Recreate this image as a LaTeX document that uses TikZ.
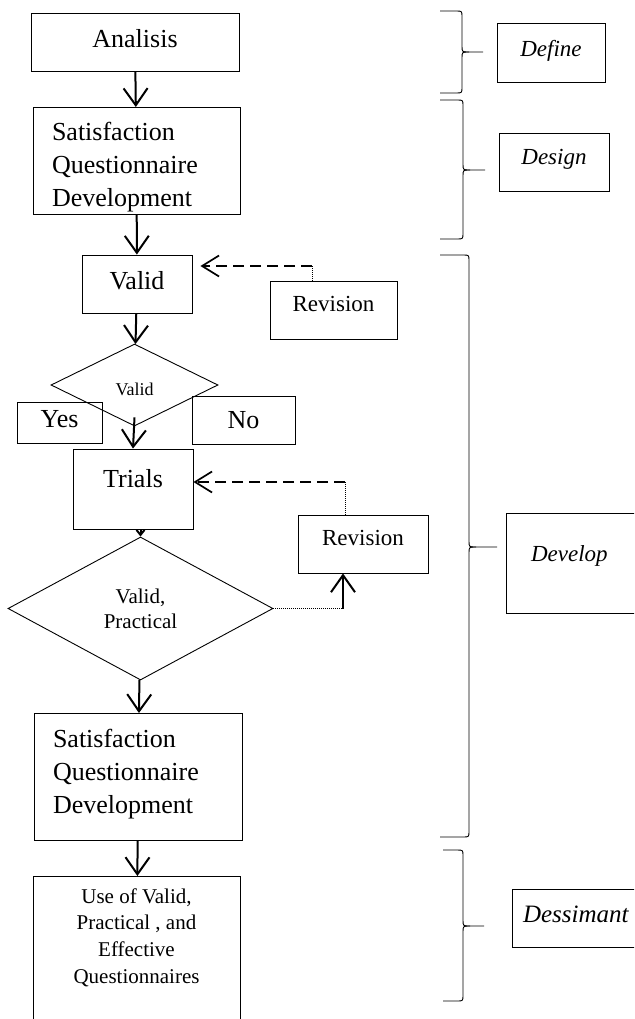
\documentclass[tikz,border=0pt]{standalone}
\usepackage{fontspec}
\setmainfont{Liberation Serif}
\usetikzlibrary{shapes.geometric, arrows.meta}
\tikzstyle{caja} = [rectangle, draw=black, line width=0.9pt, align=center, text depth=8pt, font=\fontsize{26}{33}\selectfont]
\tikzstyle{rombo} = [diamond, draw=black, line width=0.9pt, align=center, inner sep=0pt]
\tikzstyle{etapa} = [rectangle, draw=black, line width=0.9pt, align=left, text depth=8pt, font=\fontsize{23}{28}\selectfont\itshape]
\tikzstyle{arrow} = [line width=2pt, -{Straight Barb[length=17pt, width=24pt]}]
\tikzstyle{arrowrev} = [line width=1.7pt, dash pattern=on 11pt off 6pt, -{Straight Barb[length=17pt, width=21pt]}]
\tikzstyle{punteado} = [line width=0.7pt, dash pattern=on 1pt off 1pt]
\tikzstyle{llave} = [line width=0.9pt]
\newcommand{\llavederecha}[6]{%
  \draw [llave] (#1,#4) -- ({#2-6},#4) .. controls (#2,#4) .. (#2,{#4+6}) -- (#2,{#5-6}) .. controls (#2,#5) .. ({#2+7},#5) -- (#3,#5);
  \draw [llave] ({#2+7},#5) .. controls (#2,#5) .. (#2,{#5+6}) -- (#2,{#6-6}) .. controls (#2,#6) .. ({#2-6},#6) -- (#1,#6);}

\begin{document}
\begin{tikzpicture}[x=1pt, y=-1pt]
        \useasboundingbox (0,0) rectangle (634,1019);
        \clip (0,0) rectangle (634,1019);

        \node (analisis) [caja, minimum width=208pt, minimum height=58pt] at (135,42) {Analisis};
        \node (cuest1) [caja, anchor=north, minimum width=207pt, minimum height=107pt, inner ysep=0pt, inner xsep=19pt, text width=169pt, align=left, text height=33pt, text depth=74pt] at (136.5,107) {Satisfaction\\Questionnaire\\Development};
        \node (valido) [caja, minimum width=110pt, minimum height=58pt] at (137,284) {Valid};
        \node (rev1) [caja, minimum width=127pt, minimum height=58pt, text depth=13pt, font=\fontsize{23}{28}\selectfont] at (333.5,310) {Revision};
        \node (rombo1) [rombo, minimum width=167pt, minimum height=82pt, text height=21pt, font=\fontsize{18}{21}\selectfont] at (134.5,385) {Valid};
        \node (si) [caja, minimum width=85pt, minimum height=41pt] at (59.5,422.5) {Yes};
        \node (no) [caja, minimum width=103pt, minimum height=48pt, text depth=0pt] at (243.5,420) {No};
        \node (ensayo) [caja, minimum width=120pt, minimum height=80pt, text depth=22pt] at (133,489) {Trials};
        \node (rev2) [caja, minimum width=130pt, minimum height=58pt, text depth=13pt, font=\fontsize{23}{28}\selectfont] at (363,544) {Revision};
        \node (rombo2) [rombo, minimum width=265pt, minimum height=143pt, font=\fontsize{21}{25}\selectfont] at (140.5,608.5) {Valid,\\Practical};
        \node (cuest2) [caja, anchor=north, minimum width=208pt, minimum height=127pt, inner ysep=0pt, inner xsep=19pt, text width=170pt, align=left, text height=34pt, text depth=93pt] at (138,713) {Satisfaction\\Questionnaire\\Development};
        \node (uso) [caja, anchor=north, minimum width=207pt, inner ysep=12pt, text depth=170pt, font=\fontsize{21}{26.7}\selectfont] at (136.5,876) {Use of Valid,\\Practical , and\\Effective\\Questionnaires};

        \node (define) [etapa, align=center, minimum width=108pt, minimum height=59pt] at (551,52.5) {Define};
        \node (disenar) [etapa, align=center, minimum width=110pt, minimum height=58pt, text depth=10pt] at (554,162) {Design};
        \node (desarrollar) [etapa, minimum width=160pt, minimum height=100pt, inner xsep=25pt, text width=110pt, text depth=18pt] at (586,563) {Develop};
        \node (difundir) [etapa, minimum width=150pt, minimum height=58pt, inner xsep=11pt, text width=128pt, font=\fontsize{25}{30}\selectfont\itshape] at (587,918) {Dessimant};

        \coordinate (vuelta1) at (312,266);
        \coordinate (vuelta2) at (345,482);
        \coordinate (vuelta3) at (343,608.5);

        \draw [arrow] (analisis) -- (cuest1);
        \draw [arrow] (cuest1) -- (valido);
        \draw [arrow] (valido) -- (rombo1);
        \draw [arrow] ([yshift=9pt]rombo1.south) -- (ensayo.north);
        \draw [line width=2pt, -{Straight Barb[length=5pt, width=8pt]}] (rombo2.north |- ensayo.south) -- (rombo2.north);
        \draw [arrow] (rombo2) -- (cuest2);
        \draw [arrow] (cuest2) -- (uso);

        \draw [punteado] (rev1.north -| vuelta1) -- (vuelta1);
        \draw [arrowrev, shorten >=8pt] (vuelta1) -- (vuelta1 -| valido.east);
        \draw [punteado] (rev2.north -| vuelta2) -- (vuelta2);
        \draw [arrowrev] (vuelta2) -- (vuelta2 -| ensayo.east);
        \draw [punteado] (rombo2.east) -- (vuelta3);
        \draw [arrow] (vuelta3) -- (vuelta3 |- rev2.south);

        \llavederecha{440}{462}{483}{11}{52}{93}
        \llavederecha{440}{463}{485}{100}{170}{239}
        \llavederecha{440}{469}{497}{255}{547}{837}
        \llavederecha{443}{463}{484}{850}{926}{1001}
\end{tikzpicture}
\end{document}
